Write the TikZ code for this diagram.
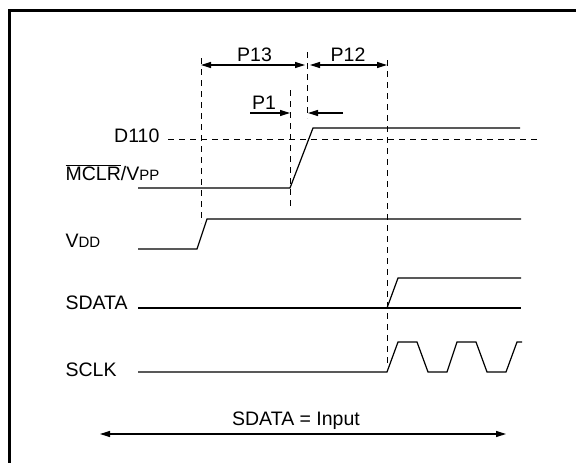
\documentclass[tikz,border=0pt]{standalone}
\usepackage{fontspec}
\setmainfont{Liberation Sans}
\usetikzlibrary{arrows.meta, positioning}

\newcommand{\smallcap}[1]{{\fontsize{15}{15}\selectfont #1}}

\begin{document}
\begin{tikzpicture}[x=1pt,y=-1pt,>={Triangle[length=10pt,width=6pt]},
  line width=1.2pt,font=\fontsize{19.5}{20}\selectfont,
  guide/.style={line width=1pt,dash pattern=on 6pt off 5pt},
  sig label/.style={anchor=base west,inner sep=0pt},
  dim label/.style={anchor=base,inner sep=0pt}]

	\useasboundingbox (0,0) rectangle (576,463);
	\draw[line width=2.7pt] (9.5,463) -- (9.5,10.5) -- (576,10.5);

    % signal names
    \node[anchor=base east,inner sep=0pt] (d110) at (160,142) {D110};
    \node[sig label] (mclr) at (65,180) {$\overline{\hbox{MCLR}}$/V\smallcap{PP}};
    \node[sig label] (vdd) at (65,247) {V\smallcap{DD}};
    \node[sig label] (sdata) at (65,309) {SDATA};
    \node[sig label] (sclk) at (65,376) {SCLK};

    % time marks
    \coordinate (d110a) at (168,139);
    \coordinate (d110b) at (540,139);
    \draw[guide] (201,58) -- (201,223);
    \draw[guide] (290,90) -- (290,207);
    \draw[guide] (307.5,52) -- (307.5,118);
    \draw[guide] (387,60) -- (387,364);
    \draw[guide] (d110a) -- (d110b);

    % waveforms
    \draw (138,188) -- (290,188) -- (313,128) -- (520,128);
    \draw (138,249) -- (197,249) -- (207,219) -- (521,219);
    \draw (138,308) -- (521,308);
    \draw (387,308) -- (398,278) -- (521,278);
    \draw (138,372) -- (387,372) -- (398,342) -- (417,342) -- (428,372)
      -- (447,372) -- (457,342) -- (476,342) -- (487,372) -- (506,372)
      -- (517,342) -- (522,342);

    % timing parameters
    \coordinate (p13a) at (201,65);
    \coordinate (p13b) at (305,65);
    \coordinate (p12a) at (310,65);
    \coordinate (p12b) at (387,65);
    \coordinate (p1a) at (250,113);
    \coordinate (p1b) at (290,113);
    \coordinate (p1c) at (343,113);
    \coordinate (p1d) at (308,113);
    \path (p13a) edge [<->] (p13b);
    \path (p12a) edge [<->] (p12b);
    \path (p1a) edge [->] (p1b);
    \path (p1c) edge [->] (p1d);
    \node[dim label] (lp13) at (254.5,61) {P13};
    \node[dim label] (lp12) at (348,61) {P12};
    \node[dim label] (lp1) at (264,109) {P1};

    % input window
    \coordinate (ina) at (100,434);
    \coordinate (inb) at (506,434);
    \path (ina) edge [<->] (inb);
    \node[dim label] (linput) at (296,425) {SDATA = Input};

\end{tikzpicture}
\end{document}
